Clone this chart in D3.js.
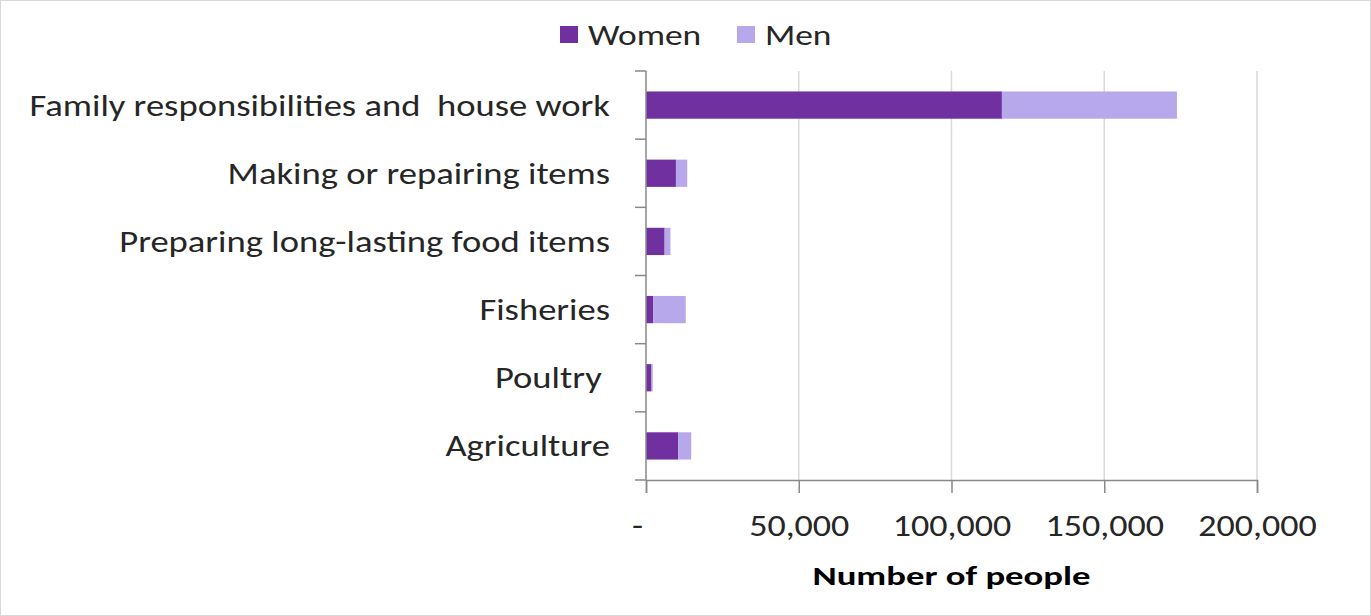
<!DOCTYPE html>
<html><head><meta charset="utf-8">
<script src="https://cdn.jsdelivr.net/npm/d3@7"></script>
<style>
html,body{margin:0;padding:0;background:#fff;}
svg{display:block;font-family:Carlito,Calibri,Lato,"Open Sans",sans-serif;}
</style></head><body>
<svg id="chart" width="1371" height="616"></svg>
<script>
const categories = ["Family responsibilities and  house work","Making or repairing items","Preparing long-lasting food items","Fisheries","Poultry ","Agriculture"];
const women = [116500, 9800, 6100, 2400, 1800, 10500];
const men = [57300, 3700, 1900, 10600, 400, 4300];
const seriesNames = ["Women","Men"];
const seriesColors = ["#7030A0","#B7A8EC"];
const xTicks = [0, 50000, 100000, 150000, 200000];
const xTitle = "Number of people";

const SX = 1.2;      // horizontal stretch of regular text
const SXC = 1.22;    // category labels
const SXT = 1.36;    // bold title

const svg = d3.select("#chart");
const W = 1371, H = 616;
const m = {left:646, right:W-1257, top:71, bottom:H-480};

svg.append("rect").attr("x",0.5).attr("y",0.5).attr("width",W-1).attr("height",H-1)
  .attr("fill","#fff").attr("stroke","#d9d9d9");

const x = d3.scaleLinear().domain([0,200000]).range([m.left, W-m.right]);
const y = d3.scaleBand().domain(categories).range([m.top, H-m.bottom]).paddingInner(0.6).paddingOuter(0.3);

// gridlines
svg.append("g").selectAll("line").data(xTicks.slice(1)).join("line")
  .attr("x1",d=>x(d)).attr("x2",d=>x(d)).attr("y1",m.top).attr("y2",H-m.bottom)
  .attr("stroke","#d9d9d9").attr("stroke-width",1.5);

// stacked data
const rows = categories.map((c,i)=>({cat:c, Women:women[i], Men:men[i]}));
const stack = d3.stack().keys(seriesNames)(rows);
svg.append("g").selectAll("g").data(stack).join("g")
  .attr("fill",(d,i)=>seriesColors[i])
  .selectAll("rect").data(d=>d).join("rect")
  .attr("x",d=>x(d[0])).attr("width",d=>x(d[1])-x(d[0]))
  .attr("y",d=>y(d.data.cat)).attr("height",y.bandwidth());

// x axis
const xAxis = svg.append("g").attr("transform",`translate(0,${H-m.bottom})`)
  .call(d3.axisBottom(x).tickValues(xTicks).tickSize(13).tickPadding(22)
    .tickFormat(d=> d===0 ? "-" : d3.format(",")(d)));
xAxis.select(".domain").attr("stroke","#898989").attr("stroke-width",1.5);
xAxis.selectAll(".tick line").attr("stroke","#898989").attr("stroke-width",1.5);
xAxis.selectAll(".tick text").attr("font-size",30).attr("fill","#262626")
  .attr("font-family","Carlito,Calibri,Lato,sans-serif")
  .attr("transform",`scale(${SX},1)`)
  .attr("dx",d=>d===0?-7.5:0);

// y axis with ticks at band boundaries
const yAxis = svg.append("g");
yAxis.append("line").attr("x1",m.left).attr("x2",m.left).attr("y1",m.top).attr("y2",H-m.bottom)
  .attr("stroke","#898989").attr("stroke-width",1.5);
const bounds = d3.range(categories.length+1).map(i=>m.top + i*(H-m.bottom-m.top)/categories.length);
yAxis.selectAll("line.t").data(bounds).join("line").attr("class","t")
  .attr("x1",m.left-11).attr("x2",m.left).attr("y1",d=>d).attr("y2",d=>d)
  .attr("stroke","#898989").attr("stroke-width",1.5);
yAxis.selectAll("text").data(categories).join("text")
  .attr("transform",d=>`translate(610,${y(d)+y.bandwidth()/2}) scale(${SXC},1)`)
  .attr("dy","0.35em")
  .attr("text-anchor","end").attr("font-size",30).attr("fill","#262626")
  .style("white-space","pre").text(d=>d);

// x title
svg.append("text")
  .attr("transform",`translate(${(x(0)+x(200000))/2},585) scale(${SXT},1)`)
  .attr("text-anchor","middle")
  .attr("font-size",27).attr("font-weight","bold").attr("fill","#000").text(xTitle);

// legend
const legX = [560, 737];
const leg = svg.append("g");
seriesNames.forEach((s,i)=>{
  leg.append("rect").attr("x",legX[i]).attr("y",26).attr("width",18).attr("height",17).attr("fill",seriesColors[i]);
  leg.append("text").attr("transform",`translate(${legX[i]+28},35) scale(${SX},1)`)
    .attr("dy","0.35em").attr("font-size",29.5)
    .attr("fill","#262626").text(s);
});
</script>
</body></html>
